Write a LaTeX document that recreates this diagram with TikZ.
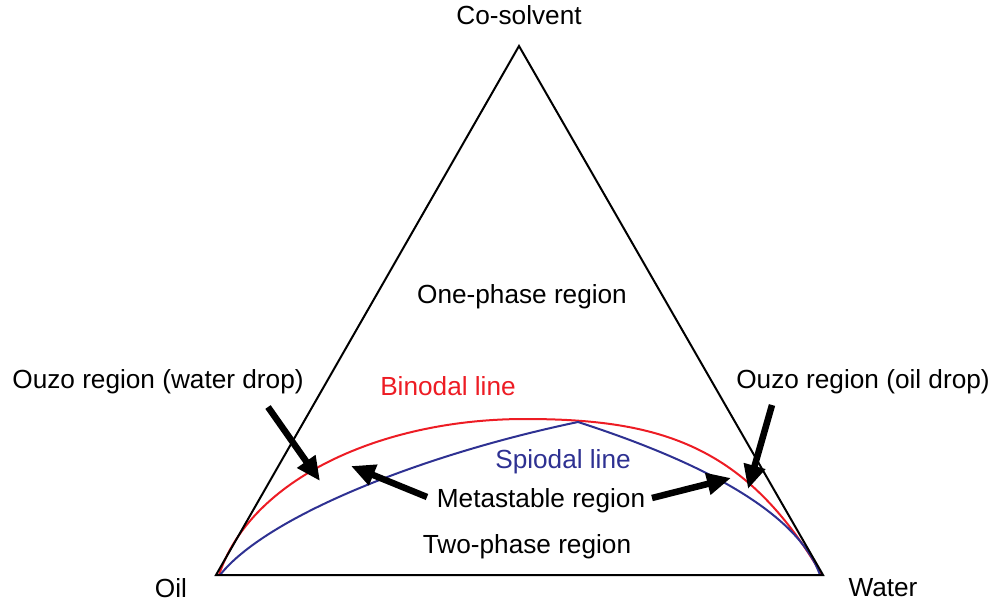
\documentclass[tikz,border=0pt]{standalone}
\usepackage{fontspec}
\setmainfont{Liberation Sans}
\usetikzlibrary{arrows.meta}
\definecolor{binred}{RGB}{237,28,36}
\definecolor{spinblue}{RGB}{46,49,146}
\begin{document}
\begin{tikzpicture}[x=1pt,y=-1pt,
  lbl/.style={font=\fontsize{26.2}{31}\selectfont, inner sep=0pt},
  fat/.style={line width=6.5pt, -{Triangle[length=24pt,width=21pt]}}]
\useasboundingbox (0,0) rectangle (995,602);
\coordinate (top) at (519,46);
\coordinate (L) at (216,575);
\coordinate (R) at (823,575);
\draw[binred, line width=2pt] (219,575) .. controls (250,480) and (380,419) .. (525,419)
  .. controls (660,419) and (746,445) .. (822,575);
\draw[spinblue, line width=2pt] (220,575) .. controls (266,517) and (420,455) .. (578,422)
  .. controls (680,455) and (795,505) .. (820,575);
\draw[line width=2pt, line join=miter] (L) -- (top) -- (R) -- cycle;
\node[lbl] (cos) at (519,15) {Co-solvent};
\node[lbl] (one) at (522,297) {One-phase region};
\node[lbl, text=binred] (bin) at (448,386) {Binodal line};
\node[lbl, text=spinblue] (spi) at (563,462) {Spiodal line};
\node[lbl] (meta) at (541,501) {Metastable region};
\node[lbl] (two) at (527,547) {Two-phase region};
\node[lbl] (oil) at (171,588) {Oil};
\node[lbl] (wat) at (883,588) {Water};
\node[lbl] (ouw) at (158,382) {Ouzo region (water drop)};
\node[lbl] (ouo) at (863,382) {Ouzo region (oil drop)};
\coordinate (a1s) at (268,407);
\coordinate (a1e) at (320,481);
\coordinate (a2s) at (427,497);
\coordinate (a2e) at (351,466);
\coordinate (a3s) at (652,498);
\coordinate (a3e) at (731,478);
\coordinate (a4s) at (772,405);
\coordinate (a4e) at (748,489);
\draw[fat] (a1s) -- (a1e);
\draw[fat] (a2s) -- (a2e);
\draw[fat] (a3s) -- (a3e);
\draw[fat] (a4s) -- (a4e);
\end{tikzpicture}
\end{document}
